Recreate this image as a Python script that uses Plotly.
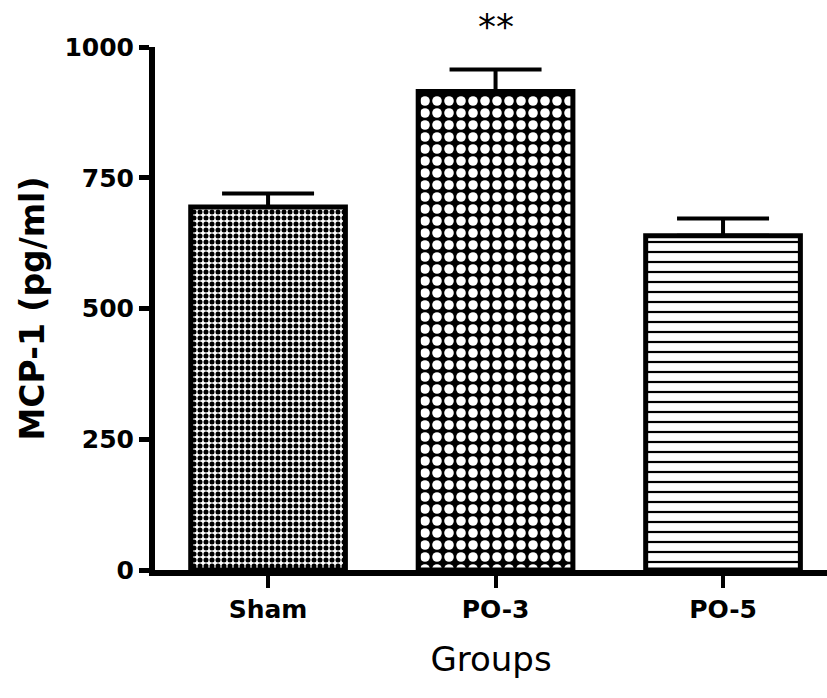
import plotly.graph_objects as go

# Group means and SEM (upper error only)
groups = ["Sham", "PO-3", "PO-5"]
mcp1_mean = [694, 915, 639]
mcp1_sem = [26, 42, 33]
significance = ["", "**", ""]

y_ticks = [0, 250, 500, 750, 1000]

# Fill textures per group
pattern_shapes = [".", ".", "-"]
pattern_sizes = [6, 12, 10]
pattern_solidity = [0.55, 0.5, 0.22]
pattern_fg = ["black", "white", "black"]
pattern_bg = ["white", "black", "white"]

fig = go.Figure()

fig.add_trace(go.Bar(
    x=groups,
    y=mcp1_mean,
    width=0.68,
    marker=dict(
        color="white",
        line=dict(color="black", width=5),
        pattern=dict(
            shape=pattern_shapes,
            size=pattern_sizes,
            solidity=pattern_solidity,
            fgcolor=pattern_fg,
            bgcolor=pattern_bg,
            fillmode="replace",
        ),
    ),
    error_y=dict(
        type="data",
        symmetric=False,
        array=mcp1_sem,
        arrayminus=[0] * len(mcp1_sem),
        color="black",
        thickness=4,
        width=46,
    ),
    showlegend=False,
))

for g, m, e, s in zip(groups, mcp1_mean, mcp1_sem, significance):
    if s:
        fig.add_annotation(
            x=g, y=m + e, text=s, showarrow=False,
            yanchor="bottom", yshift=20,
            font=dict(family="DejaVu Sans", size=36, color="black"),
        )

fig.update_layout(
    width=827, height=698,
    margin=dict(l=155, r=0, t=47, b=128),
    paper_bgcolor="white",
    plot_bgcolor="white",
)

fig.update_xaxes(
    range=[-0.497, 2.457],
    showline=True, linewidth=6, linecolor="black",
    ticks="outside", ticklen=12, tickwidth=4, tickcolor="black",
    showgrid=False, zeroline=False,
    tickfont=dict(family="DejaVu Sans", size=25, color="black", weight="bold"),
    title=dict(text="Groups", standoff=26,
               font=dict(family="DejaVu Sans", size=34, color="black")),
)

fig.update_yaxes(
    range=[0, 1000],
    tickvals=y_ticks,
    ticktext=[str(v) for v in y_ticks],
    showline=True, linewidth=6, linecolor="black",
    ticks="outside", ticklen=10, tickwidth=5, tickcolor="black",
    showgrid=False, zeroline=False,
    tickfont=dict(family="DejaVu Sans", size=25, color="black", weight="bold"),
    title=dict(text="MCP-1 (pg/ml)", standoff=12,
               font=dict(family="DejaVu Sans", size=33, color="black", weight="bold")),
)

fig.write_html("out.html")
